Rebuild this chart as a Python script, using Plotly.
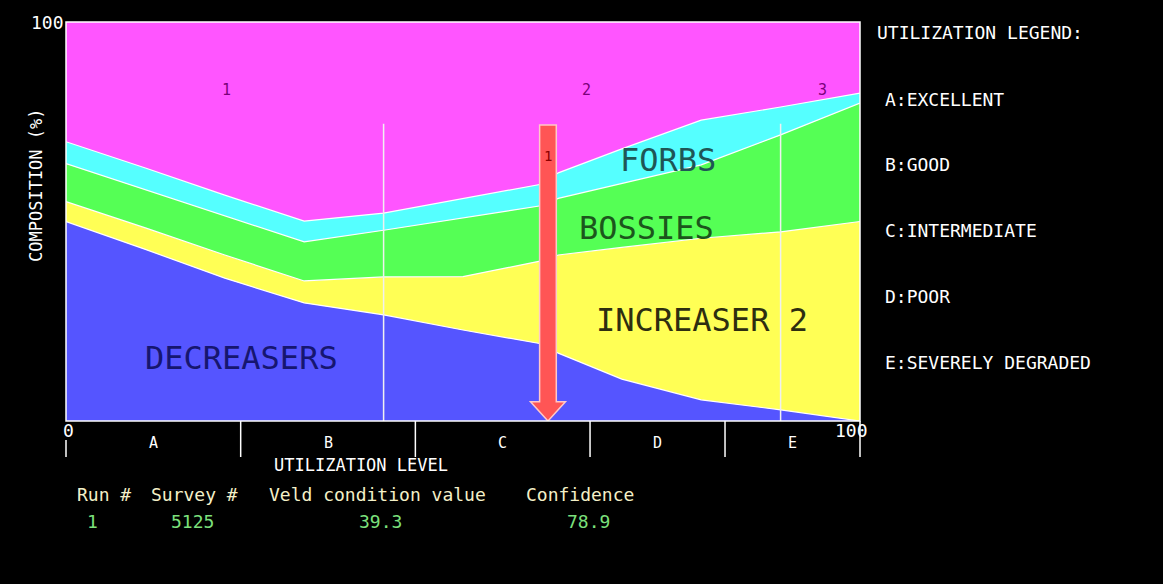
import plotly.graph_objects as go

# Species-group composition (%) along the utilization gradient
utilization = [0, 10, 20, 30, 40, 50, 60, 62, 70, 80, 90, 100]
decreasers = [50, 43, 35.8, 29.6, 26.6, 22.8, 19.3, 17.0, 10.5, 5.3, 2.8, 0]
increaser_2 = [5, 5.4, 5.8, 5.5, 9.5, 13.4, 20.9, 24.6, 33.0, 40.5, 44.6, 50]
bossies = [9.5, 9.6, 9.8, 9.8, 11.7, 14.7, 13.8, 14.2, 16.0, 18.4, 24.3, 29.7]
forbs = [5.5, 5.4, 5.2, 5.2, 4.3, 4.8, 5.4, 6.4, 8.7, 11.2, 7.0, 2.5]

# Utilization classes
class_edges = [0, 22, 44, 66, 83, 100]
class_letters = ["A", "B", "C", "D", "E"]
class_names = ["EXCELLENT", "GOOD", "INTERMEDIATE", "POOR", "SEVERELY DEGRADED"]

# Reference utilization lines and numbered sites
reference_lines = [40, 90]
site_labels = ["1", "2", "3"]
site_positions = [20.2, 65.6, 95.3]

# Current run
run_no = 1
survey_no = 5125
veld_condition = 39.3
confidence = 78.9

FONT = "DejaVu Sans Mono"
W, H = 1163, 584
L, R, T, B = 66, 860, 22, 421  # plot area in pixels


def px(x):
    return (x - L) / (R - L)


def py(y):
    return (B - y) / (B - T)


fig = go.Figure()

layers = [
    ("DECREASERS", decreasers, "#5555FF"),
    ("INCREASER 2", increaser_2, "#FFFF55"),
    ("BOSSIES", bossies, "#55FF55"),
    ("FORBS", forbs, "#55FFFF"),
]
for name, vals, col in layers:
    fig.add_trace(go.Scatter(
        x=utilization, y=vals, name=name, stackgroup="comp",
        mode="lines", line=dict(color="#FFFFFF", width=1.2),
        fillcolor=col, hoverinfo="skip", showlegend=False,
    ))

shapes = []
# reference lines inside the plot
for xv in reference_lines:
    shapes.append(dict(type="line", xref="x", yref="y", x0=xv, x1=xv, y0=0, y1=74.5,
                       line=dict(color="#F0F0F0", width=1.5), layer="above"))

# arrow marking the current run (utilization = 100 - veld condition)
xc = 100 - veld_condition
hw, hh = 1.05, 2.2
arrow_path = (f"M {xc - hw},74.2 L {xc + hw},74.2 L {xc + hw},4.8 L {xc + hh},4.8 "
              f"L {xc},0 L {xc - hh},4.8 L {xc - hw},4.8 Z")
shapes.append(dict(type="path", xref="x", yref="y", path=arrow_path,
                   fillcolor="#FF5555", line=dict(color="#FFC8C8", width=1.5), layer="above"))

# plot frame
shapes.append(dict(type="rect", xref="paper", yref="paper", x0=0, x1=1, y0=0, y1=1,
                   line=dict(color="#FFFFFF", width=1.5), layer="above"))

# class boundary ticks below the axis
for e in class_edges:
    top = B if e != 0 else 440
    shapes.append(dict(type="line", xref="paper", yref="paper", x0=e / 100, x1=e / 100,
                       y0=py(top), y1=py(457), line=dict(color="#FFFFFF", width=1.5)))

ann = []


def text(x, y, s, size=18, color="#FFFFFF", anchor="center"):
    ann.append(dict(x=x, y=y, xref="paper", yref="paper", text=s, showarrow=False,
                    xanchor=anchor, yanchor="middle", borderpad=0,
                    font=dict(family=FONT, size=size, color=color)))


# axis numbers
text(px(47), py(22), "100")
text(px(68), py(431), "0")
text(px(851), py(431), "100")

# class letters centred in each class
for i, letter in enumerate(class_letters):
    mid = (class_edges[i] + class_edges[i + 1]) / 2
    text(mid / 100, py(443), letter, size=15)

text(px(361), py(465), "UTILIZATION LEVEL", size=17)

# y-axis title
ann.append(dict(x=px(36), y=py(185), xref="paper", yref="paper", text="COMPOSITION (%)",
                showarrow=False, textangle=-90, xanchor="center", yanchor="middle",
                font=dict(family=FONT, size=17, color="#FFFFFF")))

# group labels
text(px(241), py(358), "DECREASERS", size=32, color="#161670")
text(px(668), py(160), "FORBS", size=32, color="#1F5656")
text(px(646), py(228), "BOSSIES", size=32, color="#1C561C")
text(px(702), py(320), "INCREASER 2", size=32, color="#2E2E10")

# numbered sites
for lab, xs in zip(site_labels, site_positions):
    text(xs / 100, py(90), lab, size=15, color="#7A007A")
text(xc / 100, py(156), str(run_no), size=14, color="#8A0000")

# legend of utilization classes
text(px(876), py(32), "UTILIZATION LEGEND:", anchor="left")
legend_y = [99, 164, 230, 296, 362]
for letter, name, yy in zip(class_letters, class_names, legend_y):
    text(px(884), py(yy), f"{letter}:{name}", anchor="left")

# run summary
hdr = "#F4F0C8"
val = "#7CE07C"
text(px(76), py(494), "Run #", anchor="left", color=hdr)
text(px(150), py(494), "Survey #", anchor="left", color=hdr)
text(px(268), py(494), "Veld condition value", anchor="left", color=hdr)
text(px(525), py(494), "Confidence", anchor="left", color=hdr)
text(px(92), py(521), str(run_no), color=val)
text(px(192), py(521), str(survey_no), color=val)
text(px(380), py(521), f"{veld_condition:.1f}", color=val)
text(px(588), py(521), f"{confidence:.1f}", color=val)

fig.update_layout(
    width=W, height=H,
    margin=dict(l=L, r=W - R, t=T, b=H - B, pad=0),
    paper_bgcolor="#000000",
    plot_bgcolor="#FF55FF",
    xaxis=dict(range=[0, 100], showgrid=False, zeroline=False, showticklabels=False,
               ticks="", fixedrange=True),
    yaxis=dict(range=[0, 100], showgrid=False, zeroline=False, showticklabels=False,
               ticks="", fixedrange=True),
    shapes=shapes,
    annotations=ann,
    showlegend=False,
)

fig.write_html("out.html", config={"displayModeBar": False})
